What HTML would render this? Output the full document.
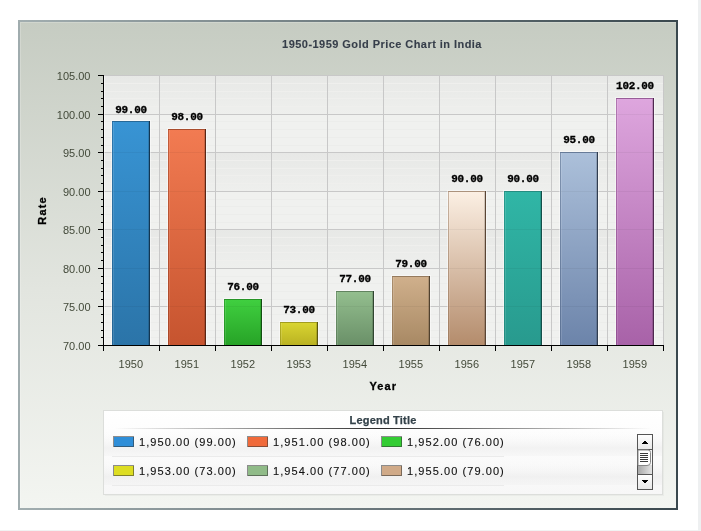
<!DOCTYPE html>
<html><head><meta charset="utf-8"><style>
html,body{margin:0;padding:0;background:#fff;width:701px;height:531px;overflow:hidden}
svg{position:absolute;left:0;top:0;display:block;will-change:transform}
text{font-family:"Liberation Sans",sans-serif}
.val{font-family:"Liberation Mono",monospace;font-weight:bold;font-size:11px;letter-spacing:-0.3px;text-anchor:middle;fill:#000;stroke:#000;stroke-width:0.3px}
.yl{font-size:11px;text-anchor:end;fill:#434a3a}
.xl{font-size:11px;text-anchor:middle;fill:#434a3a}
.title{font-size:11px;letter-spacing:0.45px;font-weight:bold;text-anchor:middle;fill:#363e4a;stroke:#363e4a;stroke-width:0.1px}
.axt{font-size:11px;letter-spacing:1.1px;font-weight:bold;text-anchor:middle;fill:#000;stroke:#000;stroke-width:0.3px}
.lt{font-size:11px;letter-spacing:0.2px;font-weight:bold;text-anchor:middle;fill:#34424a;stroke:#34424a;stroke-width:0.25px}
.li{font-size:11px;fill:#111;stroke:#111;stroke-width:0.12px;letter-spacing:1.07px}
</style></head>
<body><svg width="701" height="531" viewBox="0 0 701 531" shape-rendering="crispEdges">
<defs>
<linearGradient id="bg" x1="0" y1="0" x2="0" y2="1"><stop offset="0" stop-color="#c6ccc2"/><stop offset="0.55" stop-color="#e2e5df"/><stop offset="1" stop-color="#f3f5f1"/></linearGradient>
<linearGradient id="bt" x1="0" y1="0" x2="1" y2="0"><stop offset="0" stop-color="#a2aeb0"/><stop offset="1" stop-color="#3a484e"/></linearGradient>
<linearGradient id="g0" x1="0" y1="0" x2="0" y2="1"><stop offset="0" stop-color="#3894d4"/><stop offset="1" stop-color="#2b74a8"/></linearGradient>
<linearGradient id="g1" x1="0" y1="0" x2="0" y2="1"><stop offset="0" stop-color="#f27b52"/><stop offset="1" stop-color="#c6542f"/></linearGradient>
<linearGradient id="g2" x1="0" y1="0" x2="0" y2="1"><stop offset="0" stop-color="#40d040"/><stop offset="1" stop-color="#27a327"/></linearGradient>
<linearGradient id="g3" x1="0" y1="0" x2="0" y2="1"><stop offset="0" stop-color="#dad632"/><stop offset="1" stop-color="#bab222"/></linearGradient>
<linearGradient id="g4" x1="0" y1="0" x2="0" y2="1"><stop offset="0" stop-color="#94bf8f"/><stop offset="1" stop-color="#6a9068"/></linearGradient>
<linearGradient id="g5" x1="0" y1="0" x2="0" y2="1"><stop offset="0" stop-color="#d0b08c"/><stop offset="1" stop-color="#a88964"/></linearGradient>
<linearGradient id="g6" x1="0" y1="0" x2="0" y2="1"><stop offset="0" stop-color="#fcf0e4"/><stop offset="1" stop-color="#b48c6c"/></linearGradient>
<linearGradient id="g7" x1="0" y1="0" x2="0" y2="1"><stop offset="0" stop-color="#30b6a6"/><stop offset="1" stop-color="#289a8e"/></linearGradient>
<linearGradient id="g8" x1="0" y1="0" x2="0" y2="1"><stop offset="0" stop-color="#acc0da"/><stop offset="1" stop-color="#6c84aa"/></linearGradient>
<linearGradient id="g9" x1="0" y1="0" x2="0" y2="1"><stop offset="0" stop-color="#dea6de"/><stop offset="1" stop-color="#a862a8"/></linearGradient>
<linearGradient id="lg" x1="0" y1="0" x2="0" y2="1"><stop offset="0" stop-color="#ffffff"/><stop offset="1" stop-color="#f7f7f7"/></linearGradient>
<linearGradient id="sep" x1="0" y1="0" x2="1" y2="0"><stop offset="0" stop-color="#2a2a2a" stop-opacity="0"/><stop offset="0.5" stop-color="#2a2a2a" stop-opacity="1"/><stop offset="1" stop-color="#2a2a2a" stop-opacity="0"/></linearGradient>
<linearGradient id="trk" x1="0" y1="0" x2="1" y2="0"><stop offset="0" stop-color="#a8a8a8"/><stop offset="1" stop-color="#e4e4e4"/></linearGradient>
<linearGradient id="btn" x1="0" y1="0" x2="0" y2="1"><stop offset="0" stop-color="#ffffff"/><stop offset="1" stop-color="#e8e8e8"/></linearGradient>
<linearGradient id="band" x1="0" y1="0" x2="0" y2="1"><stop offset="0" stop-color="#e7e8e6"/><stop offset="1" stop-color="#eeefed"/></linearGradient>
<linearGradient id="row" x1="0" y1="0" x2="0" y2="1"><stop offset="0" stop-color="#ffffff" stop-opacity="0"/><stop offset="0.7" stop-color="#e8e8e8" stop-opacity="0.5"/><stop offset="1" stop-color="#eeeeee" stop-opacity="0.3"/></linearGradient>
</defs>
<rect x="698" y="0" width="3" height="531" fill="#eef0f1"/>
<rect x="0" y="530" width="698" height="1" fill="#f1f2f2"/>
<rect x="18" y="20" width="660" height="490" fill="url(#bt)"/>
<rect x="18" y="22" width="2" height="488" fill="#a0acae"/>
<rect x="676" y="20" width="2" height="490" fill="#3a484e"/>
<rect x="20" y="22" width="656" height="486" fill="url(#bg)"/>
<rect x="20" y="22" width="656" height="1" fill="#ffffff" fill-opacity="0.2"/>
<rect x="20" y="23" width="1" height="485" fill="#ffffff" fill-opacity="0.2"/>
<rect x="103" y="75" width="561" height="270" fill="#f0f1ef"/>
<rect x="104" y="229" width="560" height="39" fill="url(#band)"/>
<rect x="104" y="152" width="560" height="39" fill="url(#band)"/>
<rect x="104" y="75" width="560" height="39" fill="url(#band)"/>
<rect x="104" y="337" width="560" height="1" fill="#ecedeb"/>
<rect x="104" y="330" width="560" height="1" fill="#ecedeb"/>
<rect x="104" y="322" width="560" height="1" fill="#ecedeb"/>
<rect x="104" y="314" width="560" height="1" fill="#ecedeb"/>
<rect x="104" y="299" width="560" height="1" fill="#ecedeb"/>
<rect x="104" y="291" width="560" height="1" fill="#ecedeb"/>
<rect x="104" y="283" width="560" height="1" fill="#ecedeb"/>
<rect x="104" y="276" width="560" height="1" fill="#ecedeb"/>
<rect x="104" y="260" width="560" height="1" fill="#efefed"/>
<rect x="104" y="252" width="560" height="1" fill="#efefed"/>
<rect x="104" y="245" width="560" height="1" fill="#efefed"/>
<rect x="104" y="237" width="560" height="1" fill="#efefed"/>
<rect x="104" y="222" width="560" height="1" fill="#ecedeb"/>
<rect x="104" y="214" width="560" height="1" fill="#ecedeb"/>
<rect x="104" y="206" width="560" height="1" fill="#ecedeb"/>
<rect x="104" y="199" width="560" height="1" fill="#ecedeb"/>
<rect x="104" y="183" width="560" height="1" fill="#efefed"/>
<rect x="104" y="175" width="560" height="1" fill="#efefed"/>
<rect x="104" y="168" width="560" height="1" fill="#efefed"/>
<rect x="104" y="160" width="560" height="1" fill="#efefed"/>
<rect x="104" y="145" width="560" height="1" fill="#ecedeb"/>
<rect x="104" y="137" width="560" height="1" fill="#ecedeb"/>
<rect x="104" y="129" width="560" height="1" fill="#ecedeb"/>
<rect x="104" y="121" width="560" height="1" fill="#ecedeb"/>
<rect x="104" y="106" width="560" height="1" fill="#efefed"/>
<rect x="104" y="98" width="560" height="1" fill="#efefed"/>
<rect x="104" y="91" width="560" height="1" fill="#efefed"/>
<rect x="104" y="83" width="560" height="1" fill="#efefed"/>
<rect x="104" y="306" width="560" height="1" fill="#c8c8c8"/>
<rect x="104" y="268" width="560" height="1" fill="#c8c8c8"/>
<rect x="104" y="229" width="560" height="1" fill="#c8c8c8"/>
<rect x="104" y="191" width="560" height="1" fill="#c8c8c8"/>
<rect x="104" y="152" width="560" height="1" fill="#c8c8c8"/>
<rect x="104" y="114" width="560" height="1" fill="#c8c8c8"/>
<rect x="104" y="75" width="560" height="1" fill="#c8c8c8"/>
<rect x="159" y="75" width="1" height="270" fill="#c8c8c8"/>
<rect x="215" y="75" width="1" height="270" fill="#c8c8c8"/>
<rect x="271" y="75" width="1" height="270" fill="#c8c8c8"/>
<rect x="327" y="75" width="1" height="270" fill="#c8c8c8"/>
<rect x="383" y="75" width="1" height="270" fill="#c8c8c8"/>
<rect x="439" y="75" width="1" height="270" fill="#c8c8c8"/>
<rect x="495" y="75" width="1" height="270" fill="#c8c8c8"/>
<rect x="551" y="75" width="1" height="270" fill="#c8c8c8"/>
<rect x="607" y="75" width="1" height="270" fill="#c8c8c8"/>
<rect x="663" y="75" width="1" height="270" fill="#c8c8c8"/>
<rect x="111" y="120" width="40" height="225" fill="#ffffff" fill-opacity="0.45"/>
<rect x="112" y="121" width="38" height="224" fill="url(#g0)"/>
<rect x="112" y="121" width="38" height="1" fill="#1f557e" fill-opacity="0.7"/>
<rect x="112" y="122" width="1" height="223" fill="#1f557e" fill-opacity="0.45"/>
<rect x="113" y="122" width="1" height="223" fill="#ffffff" fill-opacity="0.12"/>
<rect x="149" y="121" width="1" height="224" fill="#1f557e"/>
<rect x="149" y="121" width="1" height="224" fill="#000" fill-opacity="0.35"/>
<rect x="148" y="122" width="1" height="223" fill="#000" fill-opacity="0.15"/>
<rect x="113" y="306" width="36" height="1" fill="#000" fill-opacity="0.045"/>
<rect x="113" y="268" width="36" height="1" fill="#000" fill-opacity="0.045"/>
<rect x="113" y="229" width="36" height="1" fill="#000" fill-opacity="0.045"/>
<rect x="113" y="191" width="36" height="1" fill="#000" fill-opacity="0.045"/>
<rect x="113" y="152" width="36" height="1" fill="#000" fill-opacity="0.045"/>
<text x="131" y="113" class="val">99.00</text>
<rect x="167" y="128" width="40" height="217" fill="#ffffff" fill-opacity="0.45"/>
<rect x="168" y="129" width="38" height="216" fill="url(#g1)"/>
<rect x="168" y="129" width="38" height="1" fill="#8a3a1e" fill-opacity="0.7"/>
<rect x="168" y="130" width="1" height="215" fill="#8a3a1e" fill-opacity="0.45"/>
<rect x="169" y="130" width="1" height="215" fill="#ffffff" fill-opacity="0.12"/>
<rect x="205" y="129" width="1" height="216" fill="#8a3a1e"/>
<rect x="205" y="129" width="1" height="216" fill="#000" fill-opacity="0.35"/>
<rect x="204" y="130" width="1" height="215" fill="#000" fill-opacity="0.15"/>
<rect x="169" y="306" width="36" height="1" fill="#000" fill-opacity="0.045"/>
<rect x="169" y="268" width="36" height="1" fill="#000" fill-opacity="0.045"/>
<rect x="169" y="229" width="36" height="1" fill="#000" fill-opacity="0.045"/>
<rect x="169" y="191" width="36" height="1" fill="#000" fill-opacity="0.045"/>
<rect x="169" y="152" width="36" height="1" fill="#000" fill-opacity="0.045"/>
<text x="187" y="120" class="val">98.00</text>
<rect x="223" y="298" width="40" height="47" fill="#ffffff" fill-opacity="0.45"/>
<rect x="224" y="299" width="38" height="46" fill="url(#g2)"/>
<rect x="224" y="299" width="38" height="1" fill="#1c7a1c" fill-opacity="0.7"/>
<rect x="224" y="300" width="1" height="45" fill="#1c7a1c" fill-opacity="0.45"/>
<rect x="225" y="300" width="1" height="45" fill="#ffffff" fill-opacity="0.12"/>
<rect x="261" y="299" width="1" height="46" fill="#1c7a1c"/>
<rect x="261" y="299" width="1" height="46" fill="#000" fill-opacity="0.35"/>
<rect x="260" y="300" width="1" height="45" fill="#000" fill-opacity="0.15"/>
<rect x="225" y="306" width="36" height="1" fill="#000" fill-opacity="0.045"/>
<text x="243" y="290" class="val">76.00</text>
<rect x="279" y="321" width="40" height="24" fill="#ffffff" fill-opacity="0.45"/>
<rect x="280" y="322" width="38" height="23" fill="url(#g3)"/>
<rect x="280" y="322" width="38" height="1" fill="#8a8418" fill-opacity="0.7"/>
<rect x="280" y="323" width="1" height="22" fill="#8a8418" fill-opacity="0.45"/>
<rect x="281" y="323" width="1" height="22" fill="#ffffff" fill-opacity="0.12"/>
<rect x="317" y="322" width="1" height="23" fill="#8a8418"/>
<rect x="317" y="322" width="1" height="23" fill="#000" fill-opacity="0.35"/>
<rect x="316" y="323" width="1" height="22" fill="#000" fill-opacity="0.15"/>
<text x="299" y="313" class="val">73.00</text>
<rect x="335" y="290" width="40" height="55" fill="#ffffff" fill-opacity="0.45"/>
<rect x="336" y="291" width="38" height="54" fill="url(#g4)"/>
<rect x="336" y="291" width="38" height="1" fill="#4b6a4a" fill-opacity="0.7"/>
<rect x="336" y="292" width="1" height="53" fill="#4b6a4a" fill-opacity="0.45"/>
<rect x="337" y="292" width="1" height="53" fill="#ffffff" fill-opacity="0.12"/>
<rect x="373" y="291" width="1" height="54" fill="#4b6a4a"/>
<rect x="373" y="291" width="1" height="54" fill="#000" fill-opacity="0.35"/>
<rect x="372" y="292" width="1" height="53" fill="#000" fill-opacity="0.15"/>
<rect x="337" y="306" width="36" height="1" fill="#000" fill-opacity="0.045"/>
<text x="355" y="282" class="val">77.00</text>
<rect x="391" y="275" width="40" height="70" fill="#ffffff" fill-opacity="0.45"/>
<rect x="392" y="276" width="38" height="69" fill="url(#g5)"/>
<rect x="392" y="276" width="38" height="1" fill="#7c6448" fill-opacity="0.7"/>
<rect x="392" y="277" width="1" height="68" fill="#7c6448" fill-opacity="0.45"/>
<rect x="393" y="277" width="1" height="68" fill="#ffffff" fill-opacity="0.12"/>
<rect x="429" y="276" width="1" height="69" fill="#7c6448"/>
<rect x="429" y="276" width="1" height="69" fill="#000" fill-opacity="0.35"/>
<rect x="428" y="277" width="1" height="68" fill="#000" fill-opacity="0.15"/>
<rect x="393" y="306" width="36" height="1" fill="#000" fill-opacity="0.045"/>
<text x="411" y="267" class="val">79.00</text>
<rect x="447" y="190" width="40" height="155" fill="#ffffff" fill-opacity="0.45"/>
<rect x="448" y="191" width="38" height="154" fill="url(#g6)"/>
<rect x="448" y="191" width="38" height="1" fill="#8a6a50" fill-opacity="0.7"/>
<rect x="448" y="192" width="1" height="153" fill="#8a6a50" fill-opacity="0.45"/>
<rect x="449" y="192" width="1" height="153" fill="#ffffff" fill-opacity="0.12"/>
<rect x="485" y="191" width="1" height="154" fill="#8a6a50"/>
<rect x="485" y="191" width="1" height="154" fill="#000" fill-opacity="0.35"/>
<rect x="484" y="192" width="1" height="153" fill="#000" fill-opacity="0.15"/>
<rect x="449" y="306" width="36" height="1" fill="#000" fill-opacity="0.045"/>
<rect x="449" y="268" width="36" height="1" fill="#000" fill-opacity="0.045"/>
<rect x="449" y="229" width="36" height="1" fill="#000" fill-opacity="0.045"/>
<text x="467" y="182" class="val">90.00</text>
<rect x="503" y="190" width="40" height="155" fill="#ffffff" fill-opacity="0.45"/>
<rect x="504" y="191" width="38" height="154" fill="url(#g7)"/>
<rect x="504" y="191" width="38" height="1" fill="#1f7a70" fill-opacity="0.7"/>
<rect x="504" y="192" width="1" height="153" fill="#1f7a70" fill-opacity="0.45"/>
<rect x="505" y="192" width="1" height="153" fill="#ffffff" fill-opacity="0.12"/>
<rect x="541" y="191" width="1" height="154" fill="#1f7a70"/>
<rect x="541" y="191" width="1" height="154" fill="#000" fill-opacity="0.35"/>
<rect x="540" y="192" width="1" height="153" fill="#000" fill-opacity="0.15"/>
<rect x="505" y="306" width="36" height="1" fill="#000" fill-opacity="0.045"/>
<rect x="505" y="268" width="36" height="1" fill="#000" fill-opacity="0.045"/>
<rect x="505" y="229" width="36" height="1" fill="#000" fill-opacity="0.045"/>
<text x="523" y="182" class="val">90.00</text>
<rect x="559" y="151" width="40" height="194" fill="#ffffff" fill-opacity="0.45"/>
<rect x="560" y="152" width="38" height="193" fill="url(#g8)"/>
<rect x="560" y="152" width="38" height="1" fill="#4a5e7c" fill-opacity="0.7"/>
<rect x="560" y="153" width="1" height="192" fill="#4a5e7c" fill-opacity="0.45"/>
<rect x="561" y="153" width="1" height="192" fill="#ffffff" fill-opacity="0.12"/>
<rect x="597" y="152" width="1" height="193" fill="#4a5e7c"/>
<rect x="597" y="152" width="1" height="193" fill="#000" fill-opacity="0.35"/>
<rect x="596" y="153" width="1" height="192" fill="#000" fill-opacity="0.15"/>
<rect x="561" y="306" width="36" height="1" fill="#000" fill-opacity="0.045"/>
<rect x="561" y="268" width="36" height="1" fill="#000" fill-opacity="0.045"/>
<rect x="561" y="229" width="36" height="1" fill="#000" fill-opacity="0.045"/>
<rect x="561" y="191" width="36" height="1" fill="#000" fill-opacity="0.045"/>
<text x="579" y="143" class="val">95.00</text>
<rect x="615" y="97" width="40" height="248" fill="#ffffff" fill-opacity="0.45"/>
<rect x="616" y="98" width="38" height="247" fill="url(#g9)"/>
<rect x="616" y="98" width="38" height="1" fill="#7a3e7a" fill-opacity="0.7"/>
<rect x="616" y="99" width="1" height="246" fill="#7a3e7a" fill-opacity="0.45"/>
<rect x="617" y="99" width="1" height="246" fill="#ffffff" fill-opacity="0.12"/>
<rect x="653" y="98" width="1" height="247" fill="#7a3e7a"/>
<rect x="653" y="98" width="1" height="247" fill="#000" fill-opacity="0.35"/>
<rect x="652" y="99" width="1" height="246" fill="#000" fill-opacity="0.15"/>
<rect x="617" y="306" width="36" height="1" fill="#000" fill-opacity="0.045"/>
<rect x="617" y="268" width="36" height="1" fill="#000" fill-opacity="0.045"/>
<rect x="617" y="229" width="36" height="1" fill="#000" fill-opacity="0.045"/>
<rect x="617" y="191" width="36" height="1" fill="#000" fill-opacity="0.045"/>
<rect x="617" y="152" width="36" height="1" fill="#000" fill-opacity="0.045"/>
<rect x="617" y="114" width="36" height="1" fill="#000" fill-opacity="0.045"/>
<text x="635" y="89" class="val">102.00</text>
<rect x="104" y="76" width="1" height="269" fill="#ffffff" fill-opacity="0.5"/>
<rect x="103" y="75" width="1" height="271" fill="#000"/>
<rect x="103" y="345" width="561" height="1" fill="#000"/>
<rect x="98" y="345" width="5" height="1" fill="#000"/>
<text x="90.5" y="350" class="yl">70.00</text>
<rect x="101" y="337" width="2" height="1" fill="#000"/>
<rect x="101" y="330" width="2" height="1" fill="#000"/>
<rect x="101" y="322" width="2" height="1" fill="#000"/>
<rect x="101" y="314" width="2" height="1" fill="#000"/>
<rect x="98" y="306" width="5" height="1" fill="#000"/>
<text x="90.5" y="311" class="yl">75.00</text>
<rect x="101" y="299" width="2" height="1" fill="#000"/>
<rect x="101" y="291" width="2" height="1" fill="#000"/>
<rect x="101" y="283" width="2" height="1" fill="#000"/>
<rect x="101" y="276" width="2" height="1" fill="#000"/>
<rect x="98" y="268" width="5" height="1" fill="#000"/>
<text x="90.5" y="273" class="yl">80.00</text>
<rect x="101" y="260" width="2" height="1" fill="#000"/>
<rect x="101" y="252" width="2" height="1" fill="#000"/>
<rect x="101" y="245" width="2" height="1" fill="#000"/>
<rect x="101" y="237" width="2" height="1" fill="#000"/>
<rect x="98" y="229" width="5" height="1" fill="#000"/>
<text x="90.5" y="234" class="yl">85.00</text>
<rect x="101" y="222" width="2" height="1" fill="#000"/>
<rect x="101" y="214" width="2" height="1" fill="#000"/>
<rect x="101" y="206" width="2" height="1" fill="#000"/>
<rect x="101" y="199" width="2" height="1" fill="#000"/>
<rect x="98" y="191" width="5" height="1" fill="#000"/>
<text x="90.5" y="196" class="yl">90.00</text>
<rect x="101" y="183" width="2" height="1" fill="#000"/>
<rect x="101" y="175" width="2" height="1" fill="#000"/>
<rect x="101" y="168" width="2" height="1" fill="#000"/>
<rect x="101" y="160" width="2" height="1" fill="#000"/>
<rect x="98" y="152" width="5" height="1" fill="#000"/>
<text x="90.5" y="157" class="yl">95.00</text>
<rect x="101" y="145" width="2" height="1" fill="#000"/>
<rect x="101" y="137" width="2" height="1" fill="#000"/>
<rect x="101" y="129" width="2" height="1" fill="#000"/>
<rect x="101" y="121" width="2" height="1" fill="#000"/>
<rect x="98" y="114" width="5" height="1" fill="#000"/>
<text x="90.5" y="119" class="yl">100.00</text>
<rect x="101" y="106" width="2" height="1" fill="#000"/>
<rect x="101" y="98" width="2" height="1" fill="#000"/>
<rect x="101" y="91" width="2" height="1" fill="#000"/>
<rect x="101" y="83" width="2" height="1" fill="#000"/>
<rect x="98" y="75" width="5" height="1" fill="#000"/>
<text x="90.5" y="80" class="yl">105.00</text>
<rect x="103" y="345" width="1" height="6" fill="#000"/>
<rect x="159" y="345" width="1" height="6" fill="#000"/>
<rect x="215" y="345" width="1" height="6" fill="#000"/>
<rect x="271" y="345" width="1" height="6" fill="#000"/>
<rect x="327" y="345" width="1" height="6" fill="#000"/>
<rect x="383" y="345" width="1" height="6" fill="#000"/>
<rect x="439" y="345" width="1" height="6" fill="#000"/>
<rect x="495" y="345" width="1" height="6" fill="#000"/>
<rect x="551" y="345" width="1" height="6" fill="#000"/>
<rect x="607" y="345" width="1" height="6" fill="#000"/>
<rect x="663" y="345" width="1" height="6" fill="#000"/>
<text x="130.8" y="368" class="xl">1950</text>
<text x="186.8" y="368" class="xl">1951</text>
<text x="242.8" y="368" class="xl">1952</text>
<text x="298.8" y="368" class="xl">1953</text>
<text x="354.8" y="368" class="xl">1954</text>
<text x="410.8" y="368" class="xl">1955</text>
<text x="466.8" y="368" class="xl">1956</text>
<text x="522.8" y="368" class="xl">1957</text>
<text x="578.8" y="368" class="xl">1958</text>
<text x="634.8" y="368" class="xl">1959</text>
<text x="382" y="48" class="title">1950-1959 Gold Price Chart in India</text>
<text x="383.3" y="390" class="axt">Year</text>
<text transform="translate(46,210.5) rotate(-90)" x="0" y="0" class="axt">Rate</text>
<rect x="105" y="412" width="559" height="84" fill="#000" fill-opacity="0.03"/>
<rect x="103.5" y="410.5" width="559" height="84" fill="url(#lg)" stroke="#dcdedb"/>
<rect x="104" y="429" width="558" height="27" fill="url(#row)"/>
<rect x="104" y="457" width="558" height="28" fill="url(#row)"/>
<text x="383" y="423.5" class="lt">Legend Title</text>
<rect x="114" y="428" width="538" height="1" fill="url(#sep)"/>
<rect x="112" y="456" width="392" height="1" fill="#ebebeb"/>
<rect x="112" y="485" width="392" height="1" fill="#ebebeb"/>
<rect x="113.5" y="436.5" width="20" height="10" fill="#2f8ed8" stroke="#333" stroke-opacity="0.55"/>
<text x="139" y="446" class="li">1,950.00 (99.00)</text>
<rect x="247.5" y="436.5" width="20" height="10" fill="#f06a3a" stroke="#333" stroke-opacity="0.55"/>
<text x="273" y="446" class="li">1,951.00 (98.00)</text>
<rect x="381.5" y="436.5" width="20" height="10" fill="#33cc33" stroke="#333" stroke-opacity="0.55"/>
<text x="407" y="446" class="li">1,952.00 (76.00)</text>
<rect x="113.5" y="465.5" width="20" height="10" fill="#dddd22" stroke="#333" stroke-opacity="0.55"/>
<text x="139" y="475" class="li">1,953.00 (73.00)</text>
<rect x="247.5" y="465.5" width="20" height="10" fill="#90bb88" stroke="#333" stroke-opacity="0.55"/>
<text x="273" y="475" class="li">1,954.00 (77.00)</text>
<rect x="381.5" y="465.5" width="20" height="10" fill="#d0aa88" stroke="#333" stroke-opacity="0.55"/>
<text x="407" y="475" class="li">1,955.00 (79.00)</text>
<rect x="637.5" y="434.5" width="15" height="15" fill="url(#btn)" stroke="#555"/>
<path d="M642 444 L648 444 L645 440.5 Z" fill="#000"/>
<rect x="637.5" y="449.5" width="15" height="40" fill="none" stroke="#555"/>
<rect x="638" y="465" width="14" height="9" fill="url(#trk)"/>
<path d="M638 450 H648 Q650.5 450 650.5 452.5 V462.5 Q650.5 465.5 647 465.5 H638 Z" fill="#fff" stroke="#888" shape-rendering="geometricPrecision"/>
<rect x="640" y="453" width="8" height="1" fill="#3a3a3a"/>
<rect x="640" y="455" width="8" height="1" fill="#3a3a3a"/>
<rect x="640" y="457" width="8" height="1" fill="#3a3a3a"/>
<rect x="640" y="459" width="8" height="1" fill="#3a3a3a"/>
<rect x="640" y="461" width="8" height="1" fill="#3a3a3a"/>
<rect x="637.5" y="474.5" width="15" height="15" fill="url(#btn)" stroke="#555"/>
<path d="M642 480 L648 480 L645 483.5 Z" fill="#000"/>
</svg></body></html>
